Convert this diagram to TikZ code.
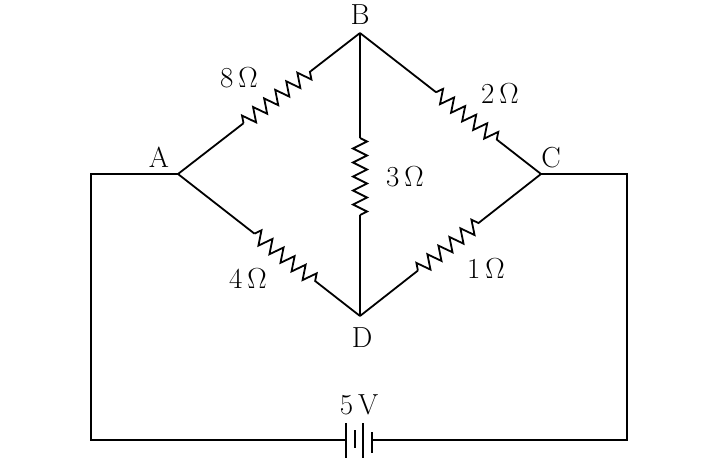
\documentclass[tikz,border=0pt]{standalone}
\usepackage{fontspec}
\usetikzlibrary{decorations.pathmorphing,calc}
\begin{document}
\begin{tikzpicture}[x=1pt,y=-1pt,line width=1.8pt,
  res/.style={decorate,decoration={zigzag,segment length=14pt,amplitude=7pt}},
  lbl/.style={font=\fontsize{29}{32}\selectfont}]
\useasboundingbox (0,0) rectangle (718,472);
\coordinate (A) at (178,174);
\coordinate (B) at (360,33);
\coordinate (C) at (541,174);
\coordinate (D) at (360,316);
\coordinate (LT) at (91,174);
\coordinate (LB) at (91,440);
\coordinate (RT) at (627,174);
\coordinate (RB) at (627,440);
\coordinate (b1) at (346,440);
\coordinate (b4) at (372,440);
\coordinate (ab1) at ($(A)!0.36!(B)$); \coordinate (ab2) at ($(A)!0.73!(B)$);
\coordinate (bc1) at ($(B)!0.42!(C)$); \coordinate (bc2) at ($(B)!0.77!(C)$);
\coordinate (ad1) at ($(A)!0.42!(D)$); \coordinate (ad2) at ($(A)!0.78!(D)$);
\coordinate (dc1) at ($(D)!0.32!(C)$); \coordinate (dc2) at ($(D)!0.68!(C)$);
\coordinate (bd1) at (360,138); \coordinate (bd2) at (360,215);
\draw (A) -- (ab1); \draw[res] (ab1) -- (ab2); \draw (ab2) -- (B);
\draw (B) -- (bc1); \draw[res] (bc1) -- (bc2); \draw (bc2) -- (C);
\draw (A) -- (ad1); \draw[res] (ad1) -- (ad2); \draw (ad2) -- (D);
\draw (D) -- (dc1); \draw[res] (dc1) -- (dc2); \draw (dc2) -- (C);
\draw (B) -- (bd1); \draw[res] (bd1) -- (bd2); \draw (bd2) -- (D);
\draw (A) -- (LT) -- (LB) -- (b1);
\draw (C) -- (RT) -- (RB) -- (b4);
\draw (346,423) -- (346,458);
\draw (355,430) -- (355,448);
\draw (363,423) -- (363,458);
\draw (372,432) -- (372,453);
\node[lbl] (lA) at (159,157) {A};
\node[lbl] (lB) at (360,15) {B};
\node[lbl] (lC) at (551,158) {C};
\node[lbl] (lD) at (362,338) {D};
\node[lbl] (r8) at (239,78) {8\,Ω};
\node[lbl] (r2) at (500,93) {2\,Ω};
\node[lbl] (r3) at (405,177) {3\,Ω};
\node[lbl] (r4) at (248,278) {4\,Ω};
\node[lbl] (r1) at (486,268) {1\,Ω};
\node[lbl] (v) at (359,405) {5\,V};
\end{tikzpicture}
\end{document}
